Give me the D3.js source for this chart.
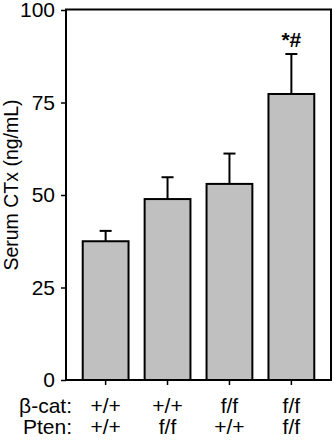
<!DOCTYPE html>
<html>
<head>
<meta charset="utf-8">
<script src="https://cdn.jsdelivr.net/npm/d3@7"></script>
<style>
  html, body { margin: 0; padding: 0; background: #fff; }
  svg { display: block; }
  text { font-family: "Liberation Sans", Arial, sans-serif; fill: #000; }
</style>
</head>
<body>
<script>
// Serum CTx by genotype
const categories = ["g1", "g2", "g3", "g4"];
const betaCat = ["+/+", "+/+", "f/f", "f/f"];
const pten = ["+/+", "f/f", "+/+", "f/f"];
const means = [37.5, 48.9, 53.0, 77.3];
const errUpper = [40.3, 54.8, 61.2, 88.1];
const marks = ["", "", "", "*#"];
const yTicks = [0, 25, 50, 75, 100];

const W = 333, H = 441;
const plotL = 66, plotR = 331, plotT = 10, plotB = 380;
const FONT = 21;

const svg = d3.select("body").append("svg").attr("width", W).attr("height", H);

const x = d3.scaleBand().domain(categories).range([plotL, plotR])
  .paddingInner(0.26).paddingOuter(0.27);
const y = d3.scaleLinear().domain([0, 100]).range([plotB, plotT]);

// bars
svg.append("g").selectAll("rect").data(categories).join("rect")
  .attr("x", d => x(d))
  .attr("y", (d, i) => y(means[i]))
  .attr("width", x.bandwidth())
  .attr("height", (d, i) => y(0) - y(means[i]))
  .attr("fill", "#c0c0c0")
  .attr("stroke", "#000")
  .attr("stroke-width", 2);

// error bars (upper only)
const eb = svg.append("g").attr("stroke", "#000").attr("stroke-width", 2);
categories.forEach((c, i) => {
  const cx = x(c) + x.bandwidth() / 2;
  eb.append("line").attr("x1", cx).attr("x2", cx)
    .attr("y1", y(means[i])).attr("y2", y(errUpper[i]));
  eb.append("line").attr("x1", cx - 6).attr("x2", cx + 6)
    .attr("y1", y(errUpper[i])).attr("y2", y(errUpper[i]));
});

// significance marks
svg.append("g").selectAll("text").data(categories).join("text")
  .attr("x", d => x(d) + x.bandwidth() / 2)
  .attr("y", (d, i) => y(errUpper[i]) - 7)
  .attr("text-anchor", "middle")
  .attr("font-size", 21)
  .attr("font-weight", "bold")
  .text((d, i) => marks[i]);

// frame
svg.append("rect")
  .attr("x", plotL).attr("y", plotT - 0.5)
  .attr("width", plotR - plotL).attr("height", plotB - plotT + 0.5)
  .attr("fill", "none").attr("stroke", "#000").attr("stroke-width", 2);

// y axis
const yAxis = svg.append("g").attr("transform", `translate(${plotL},0)`)
  .call(d3.axisLeft(y).tickValues(yTicks).tickSize(5).tickPadding(6));
yAxis.select(".domain").remove();
yAxis.selectAll("line").attr("stroke-width", 1.5);
yAxis.selectAll("text").attr("font-size", FONT)
  .attr("font-family", '"Liberation Sans", Arial, sans-serif');

// x axis ticks
const xAxis = svg.append("g").attr("transform", `translate(0,${plotB})`)
  .call(d3.axisBottom(x).tickSize(5).tickFormat(""));
xAxis.select(".domain").remove();
xAxis.selectAll("line").attr("stroke-width", 1.5);

// genotype rows
const rows = [["β-cat:", betaCat, 413], ["Pten:", pten, 434]];
rows.forEach(([label, vals, yy]) => {
  svg.append("text").attr("x", 72).attr("y", yy)
    .attr("text-anchor", "end").attr("font-size", FONT).text(label);
  svg.append("g").selectAll("text").data(categories).join("text")
    .attr("x", d => x(d) + x.bandwidth() / 2)
    .attr("y", yy)
    .attr("text-anchor", "middle")
    .attr("font-size", FONT)
    .text((d, i) => vals[i]);
});

// y axis title
svg.append("text")
  .attr("transform", "translate(17.5,185) rotate(-90)")
  .attr("text-anchor", "middle")
  .attr("font-size", 19.5)
  .text("Serum CTx (ng/mL)");
</script>
</body>
</html>
